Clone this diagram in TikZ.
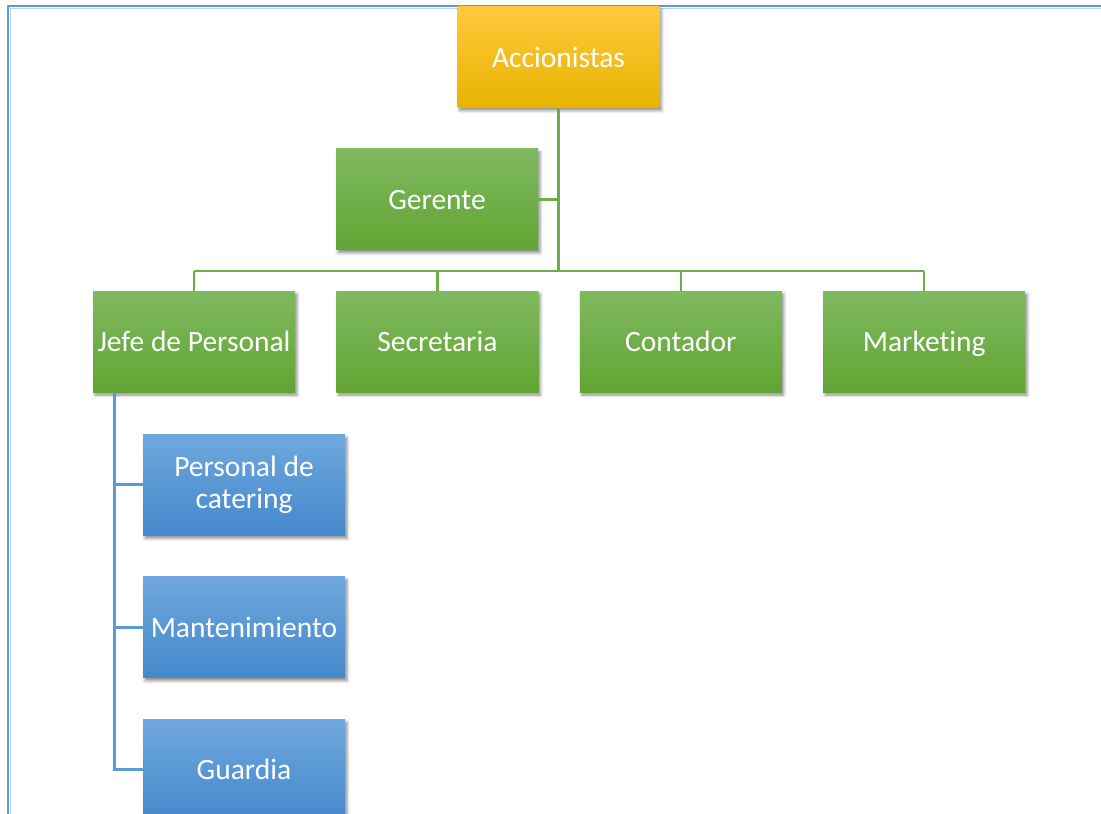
\documentclass[tikz,border=0pt]{standalone}
\usepackage{fontspec}
\setmainfont[Ligatures=NoCommon]{Carlito}
\usetikzlibrary{positioning,shadows.blur}
\definecolor{marco}{HTML}{5B9BD5}
\definecolor{marcoclaro}{HTML}{BDD7EE}
\definecolor{oroarriba}{HTML}{FFC83D}
\definecolor{oromedio}{HTML}{FFC000}
\definecolor{oroabajo}{HTML}{E8B400}
\definecolor{verdearriba}{HTML}{7FB960}
\definecolor{verdeabajo}{HTML}{62A433}
\definecolor{azularriba}{HTML}{6EA8DD}
\definecolor{azulabajo}{HTML}{4588CC}
\definecolor{lineaverde}{HTML}{70AD47}
\definecolor{lineaazul}{HTML}{5B9BD5}
\tikzset{
  caja/.style={minimum width=202pt, minimum height=101pt, inner sep=2pt, align=center,
    text=white, font=\fontsize{29.5}{32}\selectfont,
    blur shadow={shadow xshift=2pt, shadow yshift=-3pt, shadow blur radius=3pt,
      shadow blur extra rounding=0pt, shadow opacity=45}},
  unalinea/.style={text height=24pt, text depth=4pt},
  amarilla/.style={caja, unalinea, top color=oroarriba, middle color=oromedio, bottom color=oroabajo},
  verde/.style={caja, unalinea, top color=verdearriba, bottom color=verdeabajo},
  azul/.style={caja, top color=azularriba, bottom color=azulabajo},
  ramaverde/.style={lineaverde, line width=2.5pt},
  ramaazul/.style={lineaazul, line width=3pt}
}
\begin{document}
\begin{tikzpicture}[x=1pt, y=-1pt]
\useasboundingbox (0,0) rectangle (1101,814);
\clip (0,0) rectangle (1101,814);
% marco
\draw [marco, line width=2pt] (8,6) rectangle (1120,840);
\draw [marcoclaro, line width=1pt] (10.5,8.5) rectangle (1117,837);
% cajas
\node [amarilla] (accionistas) at (558.5,57) {Accionistas};
\node [verde, below=41pt of accionistas, xshift=-121.5pt] (gerente) {Gerente};
\node [verde] (jefe) at (194,341.5) {Jefe de Personal};
\node [verde, right=41pt of jefe] (secretaria) {Secretaria};
\node [verde, right=41pt of secretaria] (contador) {Contador};
\node [verde, right=41pt of contador] (marketing) {Marketing};
\node [azul, below=42pt of jefe, xshift=50pt] (catering) {Personal de\\catering};
\node [azul, unalinea, below=41pt of catering] (mantenimiento) {Mantenimiento};
\node [azul, unalinea, below=41pt of mantenimiento] (guardia) {Guardia};
% lineas verdes
\draw [ramaverde] (accionistas.south) -- ++(0,163.5) coordinate (nudo);
\draw [ramaverde] (gerente.east) -- (gerente.east -| nudo);
\draw [ramaverde] (nudo -| jefe.north) -- (nudo -| marketing.north);
\foreach \n in {jefe, secretaria, contador, marketing}
  \draw [ramaverde] (nudo -| \n.north) -- (\n.north);
% lineas azules
\coordinate (eje) at ([xshift=-80pt]jefe.south);
\draw [ramaazul] (eje) |- (guardia.west);
\draw [ramaazul] (eje |- catering.west) -- (catering.west);
\draw [ramaazul] (eje |- mantenimiento.west) -- (mantenimiento.west);
\end{tikzpicture}
\end{document}
